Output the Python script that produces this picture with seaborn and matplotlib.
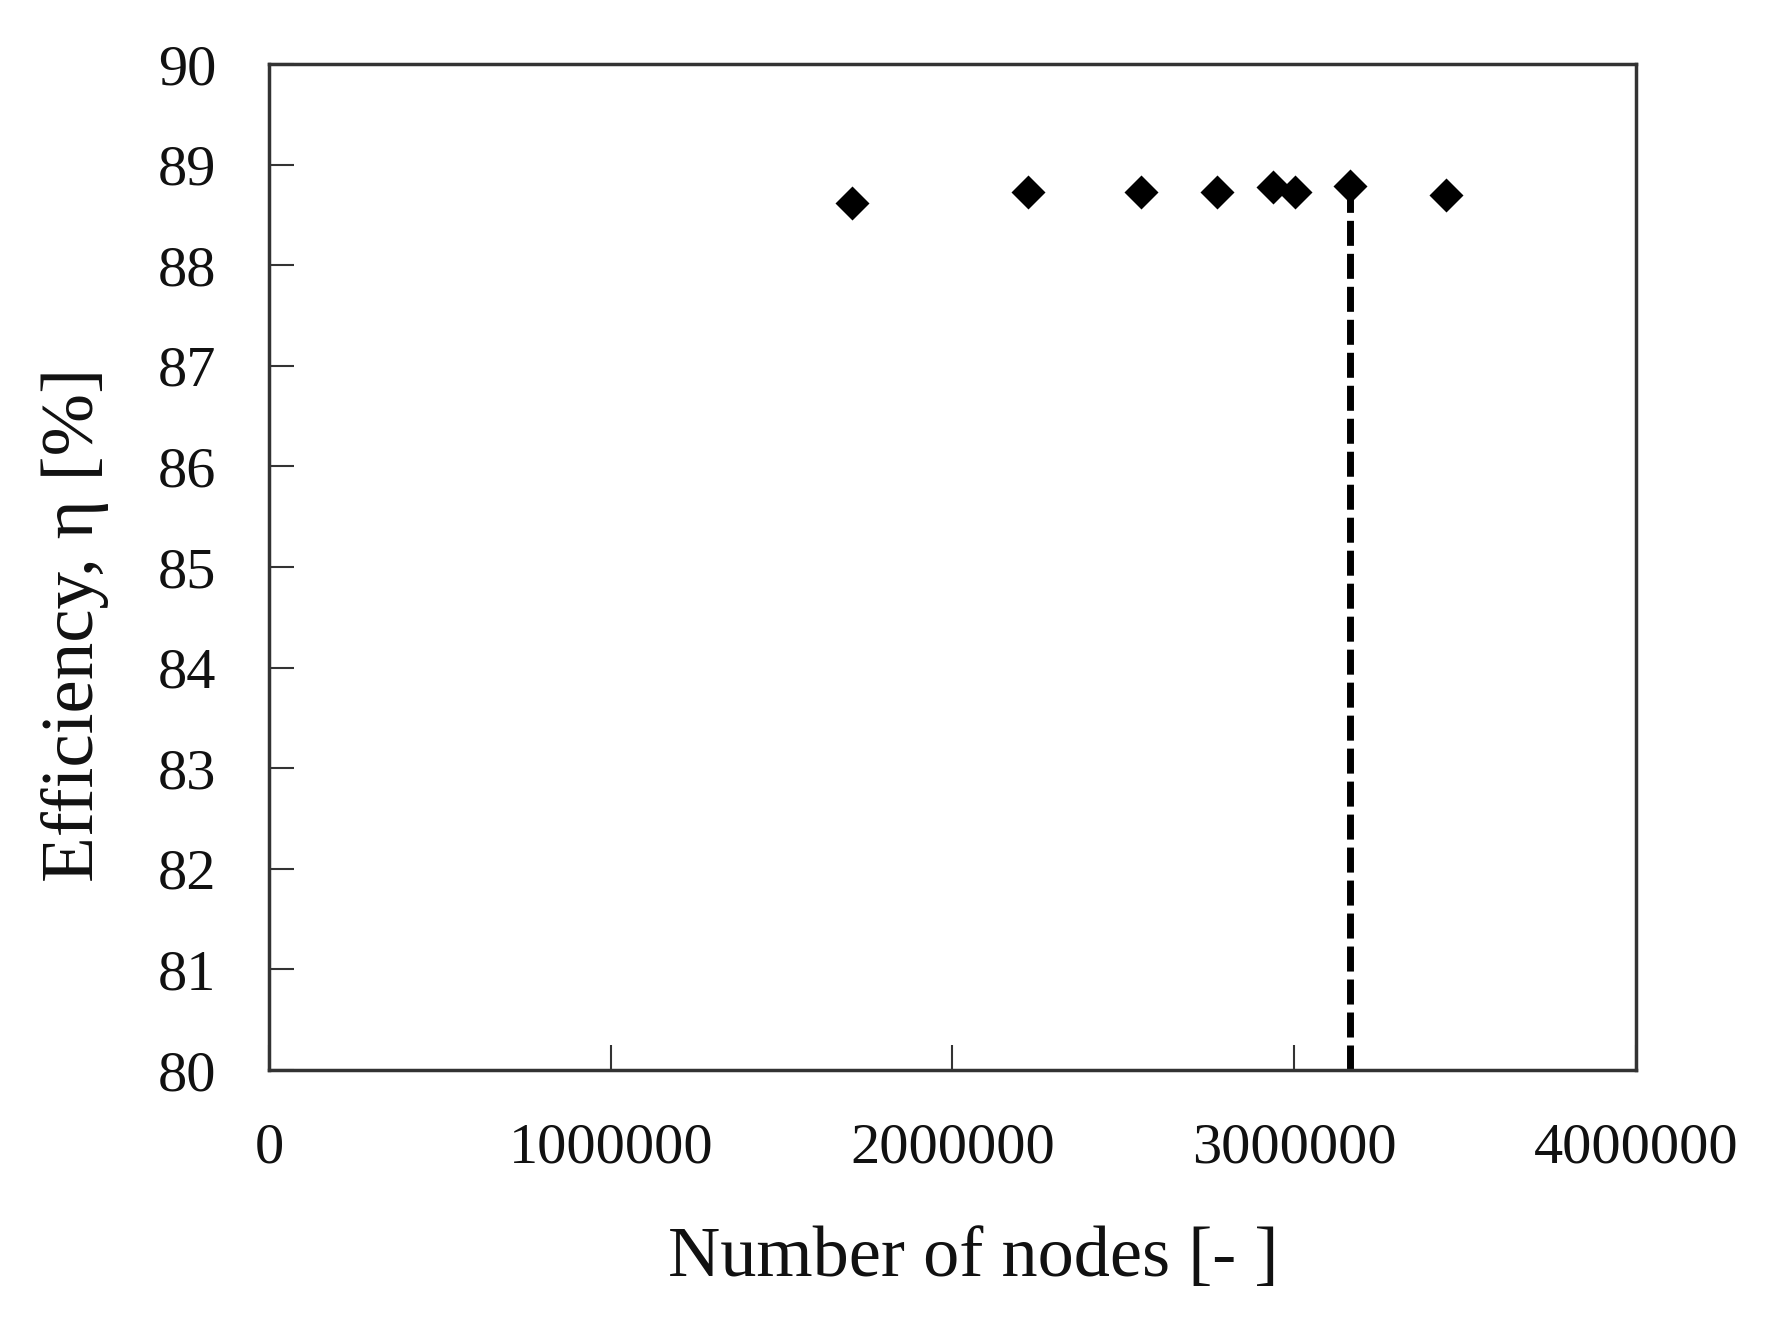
import numpy as np
import pandas as pd
import matplotlib
matplotlib.use('Agg')
import matplotlib.pyplot as plt
import seaborn as sns

# Données (étude de maillage)
nodes = [1705000, 2222000, 2552000, 2775000, 2937000, 3002000, 3163000, 3445000]
efficiency = [88.62, 88.73, 88.73, 88.73, 88.78, 88.73, 88.79, 88.70]
selected_nodes = 3163000
selected_eff = 88.79

x_ticks = [0, 1000000, 2000000, 3000000, 4000000]
y_ticks = [80, 81, 82, 83, 84, 85, 86, 87, 88, 89, 90]

df = pd.DataFrame({'nodes': nodes, 'efficiency': efficiency})

sns.set_style('white', {'xtick.bottom': True, 'ytick.left': True})
plt.rcParams['font.family'] = ['Liberation Serif', 'DejaVu Serif']

fig = plt.figure(figsize=(17.73, 13.37), dpi=100)
ax = fig.add_axes([0.1517, 0.1997, 0.7710, 0.7524])

# Ligne verticale pointillée vers le maillage retenu
sel = pd.DataFrame({'nodes': [selected_nodes, selected_nodes],
                    'efficiency': [y_ticks[0], selected_eff]})
sns.lineplot(data=sel, x='nodes', y='efficiency', ax=ax, color='black',
             linewidth=5, estimator=None, errorbar=None, sort=False, zorder=2)
ax.lines[-1].set_dashes([3.6, 1.15])

sns.scatterplot(data=df, x='nodes', y='efficiency', ax=ax, marker='D',
                s=300, color='black', edgecolor='black', linewidth=0, zorder=3)

ax.set_xlim(x_ticks[0], x_ticks[-1])
ax.set_ylim(y_ticks[0], y_ticks[-1])
ax.set_xticks(x_ticks)
ax.set_yticks(y_ticks)
ax.set_xticklabels([str(t) for t in x_ticks])
ax.set_yticklabels([str(t) for t in y_ticks])

ax.tick_params(axis='both', direction='in', length=18, width=1.5,
               color='#333333', labelsize=42, pad=38, labelcolor='#111111')

for s in ax.spines.values():
    s.set_color('#333333')
    s.set_linewidth(2.5)
    s.set_visible(True)

ax.set_xlabel('Number of nodes [- ]', fontsize=52, color='#111111')
ax.set_ylabel('Efficiency, η [%]', fontsize=54, color='#111111')
ax.xaxis.set_label_coords(0.515, -0.155)
ax.yaxis.set_label_coords(-0.117, 0.442)

fig.savefig('out.png', dpi=100, facecolor='white')
